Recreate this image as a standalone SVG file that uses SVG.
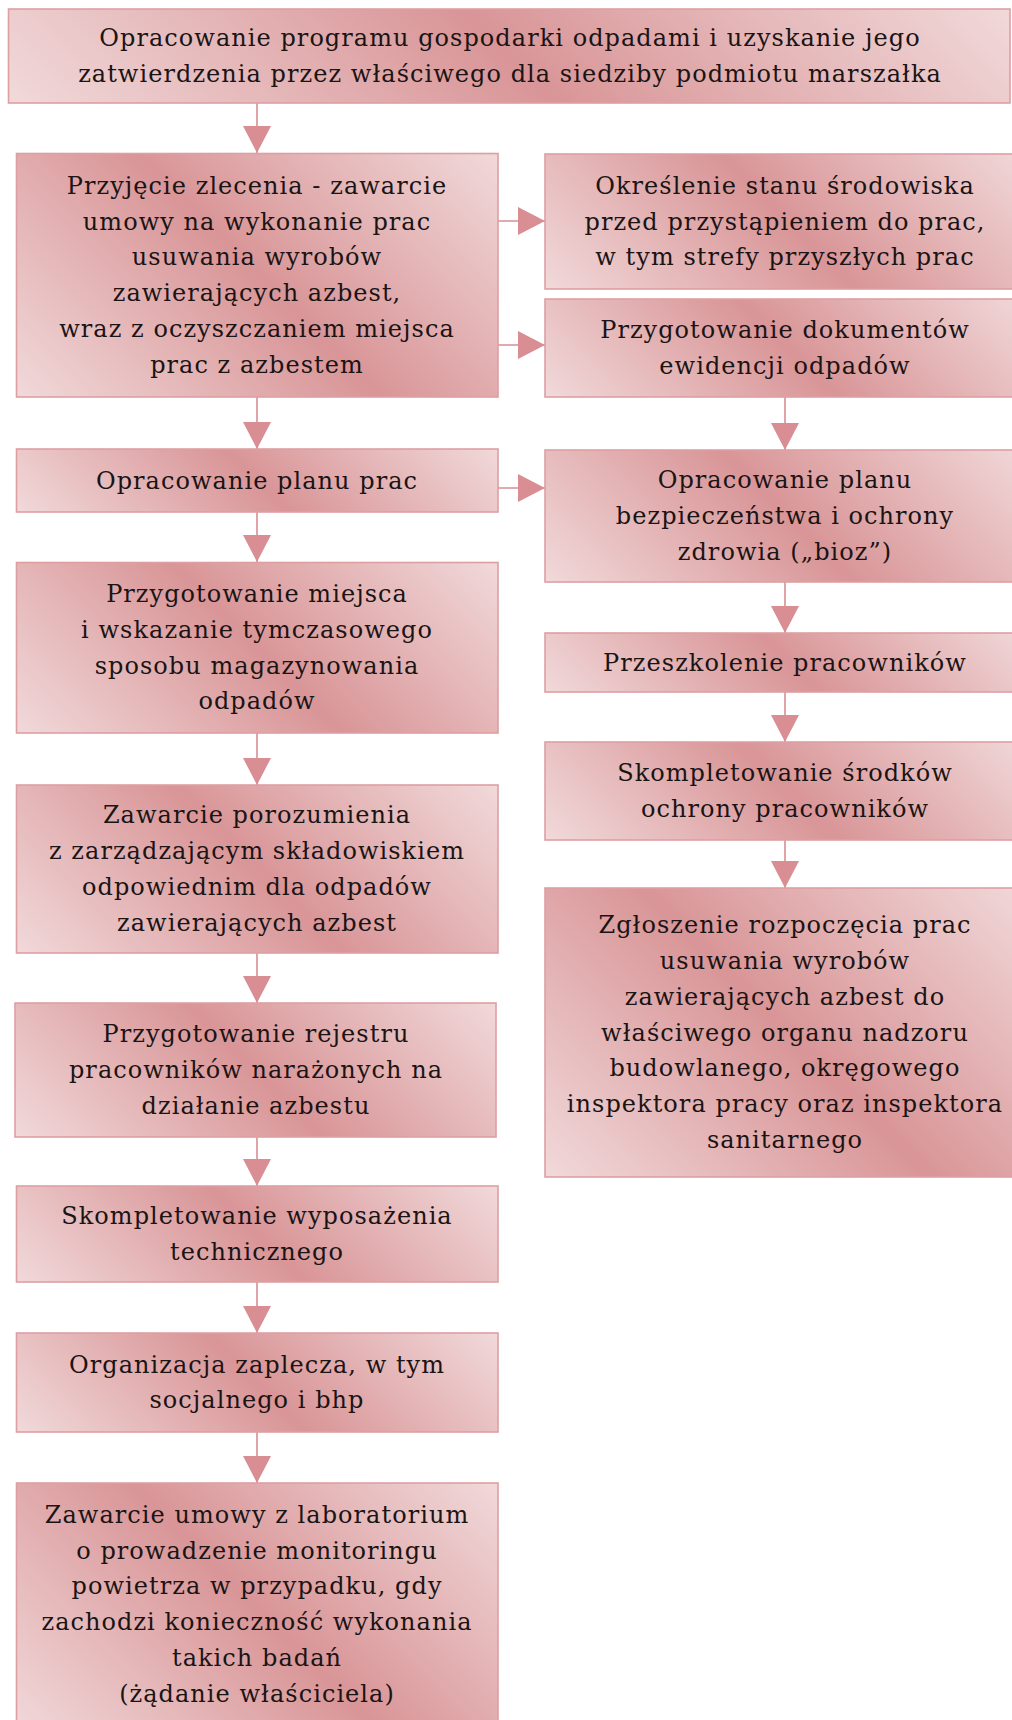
<svg xmlns="http://www.w3.org/2000/svg" width="1012" height="1720" viewBox="0 0 1012 1720">
<style>
.box{stroke:#de9fa3;stroke-width:1.6}
.t{font-family:"DejaVu Serif","Liberation Serif",serif;font-size:24px;letter-spacing:1.05px;fill:#1a1414;text-anchor:middle}
.c{stroke:#d88e92;stroke-width:1.6;fill:none}
</style>
<defs>
<marker id="ah" markerUnits="userSpaceOnUse" markerWidth="28" markerHeight="28" refX="27" refY="14" orient="auto">
<path d="M0,0 L27,14 L0,28 Z" fill="#d88e92"/>
</marker>
<linearGradient id="g1" gradientUnits="userSpaceOnUse" x1="8.5" y1="103" x2="556" y2="-445"><stop offset="0" stop-color="#f1d9da"/><stop offset="0.5" stop-color="#d99597"/><stop offset="1" stop-color="#f1d9da"/></linearGradient>
<linearGradient id="g2" gradientUnits="userSpaceOnUse" x1="16.5" y1="397" x2="379" y2="34.5" href="#g1"/>
<linearGradient id="g3" gradientUnits="userSpaceOnUse" x1="545" y1="289" x2="855" y2="-21" href="#g1"/>
<linearGradient id="g4" gradientUnits="userSpaceOnUse" x1="545" y1="397" x2="836.5" y2="105.5" href="#g1"/>
<linearGradient id="g5" gradientUnits="userSpaceOnUse" x1="16.5" y1="512" x2="288.75" y2="239.75" href="#g1"/>
<linearGradient id="g6" gradientUnits="userSpaceOnUse" x1="545" y1="582" x2="853.5" y2="273.5" href="#g1"/>
<linearGradient id="g7" gradientUnits="userSpaceOnUse" x1="16.5" y1="733" x2="342.5" y2="407" href="#g1"/>
<linearGradient id="g8" gradientUnits="userSpaceOnUse" x1="545" y1="692" x2="817" y2="420" href="#g1"/>
<linearGradient id="g9" gradientUnits="userSpaceOnUse" x1="545" y1="840" x2="836.5" y2="548.5" href="#g1"/>
<linearGradient id="g10" gradientUnits="userSpaceOnUse" x1="16.5" y1="953" x2="341.25" y2="628.25" href="#g1"/>
<linearGradient id="g11" gradientUnits="userSpaceOnUse" x1="545" y1="1177" x2="932" y2="790" href="#g1"/>
<linearGradient id="g12" gradientUnits="userSpaceOnUse" x1="15" y1="1137" x2="322.5" y2="829.5" href="#g1"/>
<linearGradient id="g13" gradientUnits="userSpaceOnUse" x1="16.5" y1="1282" x2="305.25" y2="993.25" href="#g1"/>
<linearGradient id="g14" gradientUnits="userSpaceOnUse" x1="16.5" y1="1432" x2="306.75" y2="1141.75" href="#g1"/>
<linearGradient id="g15" gradientUnits="userSpaceOnUse" x1="16.5" y1="1733" x2="382.25" y2="1367.25" href="#g1"/>
</defs>
<g id="connectors">
<line class="c" x1="257" y1="103" x2="257" y2="153" marker-end="url(#ah)"/>
<line class="c" x1="257" y1="397" x2="257" y2="449" marker-end="url(#ah)"/>
<line class="c" x1="257" y1="512" x2="257" y2="562" marker-end="url(#ah)"/>
<line class="c" x1="257" y1="733" x2="257" y2="785" marker-end="url(#ah)"/>
<line class="c" x1="257" y1="953" x2="257" y2="1003" marker-end="url(#ah)"/>
<line class="c" x1="257" y1="1137" x2="257" y2="1186" marker-end="url(#ah)"/>
<line class="c" x1="257" y1="1282" x2="257" y2="1333" marker-end="url(#ah)"/>
<line class="c" x1="257" y1="1432" x2="257" y2="1483" marker-end="url(#ah)"/>
<line class="c" x1="785" y1="397" x2="785" y2="450" marker-end="url(#ah)"/>
<line class="c" x1="785" y1="582" x2="785" y2="633" marker-end="url(#ah)"/>
<line class="c" x1="785" y1="692" x2="785" y2="742" marker-end="url(#ah)"/>
<line class="c" x1="785" y1="840" x2="785" y2="888" marker-end="url(#ah)"/>
<line class="c" x1="498" y1="221" x2="545" y2="221" marker-end="url(#ah)"/>
<line class="c" x1="498" y1="345" x2="545" y2="345" marker-end="url(#ah)"/>
<line class="c" x1="498" y1="488" x2="545" y2="488" marker-end="url(#ah)"/>
</g>
<g id="n1"><rect class="box" x="8.5" y="9" width="1001.5" height="94" fill="url(#g1)"/>
<text class="t" x="510" y="46">Opracowanie programu gospodarki odpadami i uzyskanie jego</text>
<text class="t" x="510" y="82">zatwierdzenia przez właściwego dla siedziby podmiotu marszałka</text></g>
<g id="n2"><rect class="box" x="16.5" y="153.5" width="481.5" height="243.5" fill="url(#g2)"/>
<text class="t" x="257" y="194">Przyjęcie zlecenia - zawarcie</text>
<text class="t" x="257" y="230">umowy na wykonanie prac</text>
<text class="t" x="257" y="265">usuwania wyrobów</text>
<text class="t" x="257" y="301">zawierających azbest,</text>
<text class="t" x="257" y="337">wraz z oczyszczaniem miejsca</text>
<text class="t" x="257" y="373">prac z azbestem</text></g>
<g id="n3"><rect class="box" x="545" y="154" width="485" height="135" fill="url(#g3)"/>
<text class="t" x="785" y="194">Określenie stanu środowiska</text>
<text class="t" x="785" y="229.5">przed przystąpieniem do prac,</text>
<text class="t" x="785" y="265">w tym strefy przyszłych prac</text></g>
<g id="n4"><rect class="box" x="545" y="299" width="485" height="98" fill="url(#g4)"/>
<text class="t" x="785" y="338">Przygotowanie dokumentów</text>
<text class="t" x="785" y="374">ewidencji odpadów</text></g>
<g id="n5"><rect class="box" x="16.5" y="449" width="481.5" height="63" fill="url(#g5)"/>
<text class="t" x="257" y="488.5">Opracowanie planu prac</text></g>
<g id="n6"><rect class="box" x="545" y="450" width="485" height="132" fill="url(#g6)"/>
<text class="t" x="785" y="488">Opracowanie planu</text>
<text class="t" x="785" y="524">bezpieczeństwa i ochrony</text>
<text class="t" x="785" y="560">zdrowia („bioz”)</text></g>
<g id="n7"><rect class="box" x="16.5" y="562.5" width="481.5" height="170.5" fill="url(#g7)"/>
<text class="t" x="257" y="602">Przygotowanie miejsca</text>
<text class="t" x="257" y="638">i wskazanie tymczasowego</text>
<text class="t" x="257" y="674">sposobu magazynowania</text>
<text class="t" x="257" y="709">odpadów</text></g>
<g id="n8"><rect class="box" x="545" y="633" width="485" height="59" fill="url(#g8)"/>
<text class="t" x="785" y="670.5">Przeszkolenie pracowników</text></g>
<g id="n9"><rect class="box" x="545" y="742" width="485" height="98" fill="url(#g9)"/>
<text class="t" x="785" y="781">Skompletowanie środków</text>
<text class="t" x="785" y="817">ochrony pracowników</text></g>
<g id="n10"><rect class="box" x="16.5" y="785" width="481.5" height="168" fill="url(#g10)"/>
<text class="t" x="257" y="823">Zawarcie porozumienia</text>
<text class="t" x="257" y="859">z zarządzającym składowiskiem</text>
<text class="t" x="257" y="895">odpowiednim dla odpadów</text>
<text class="t" x="257" y="931">zawierających azbest</text></g>
<g id="n11"><rect class="box" x="545" y="888" width="485" height="289" fill="url(#g11)"/>
<text class="t" x="785" y="933">Zgłoszenie rozpoczęcia prac</text>
<text class="t" x="785" y="969">usuwania wyrobów</text>
<text class="t" x="785" y="1005">zawierających azbest do</text>
<text class="t" x="785" y="1040.5">właściwego organu nadzoru</text>
<text class="t" x="785" y="1076">budowlanego, okręgowego</text>
<text class="t" x="785" y="1112">inspektora pracy oraz inspektora</text>
<text class="t" x="785" y="1148">sanitarnego</text></g>
<g id="n12"><rect class="box" x="15" y="1003" width="481" height="134" fill="url(#g12)"/>
<text class="t" x="256" y="1042">Przygotowanie rejestru</text>
<text class="t" x="256" y="1078">pracowników narażonych na</text>
<text class="t" x="256" y="1114">działanie azbestu</text></g>
<g id="n13"><rect class="box" x="16.5" y="1186" width="481.5" height="96" fill="url(#g13)"/>
<text class="t" x="257" y="1224">Skompletowanie wyposażenia</text>
<text class="t" x="257" y="1260">technicznego</text></g>
<g id="n14"><rect class="box" x="16.5" y="1333" width="481.5" height="99" fill="url(#g14)"/>
<text class="t" x="257" y="1373">Organizacja zaplecza, w tym</text>
<text class="t" x="257" y="1408">socjalnego i bhp</text></g>
<g id="n15"><rect class="box" x="16.5" y="1483" width="481.5" height="250" fill="url(#g15)"/>
<text class="t" x="257" y="1523">Zawarcie umowy z laboratorium</text>
<text class="t" x="257" y="1559">o prowadzenie monitoringu</text>
<text class="t" x="257" y="1594">powietrza w przypadku, gdy</text>
<text class="t" x="257" y="1630">zachodzi konieczność wykonania</text>
<text class="t" x="257" y="1666">takich badań</text>
<text class="t" x="257" y="1702">(żądanie właściciela)</text></g>
</svg>
